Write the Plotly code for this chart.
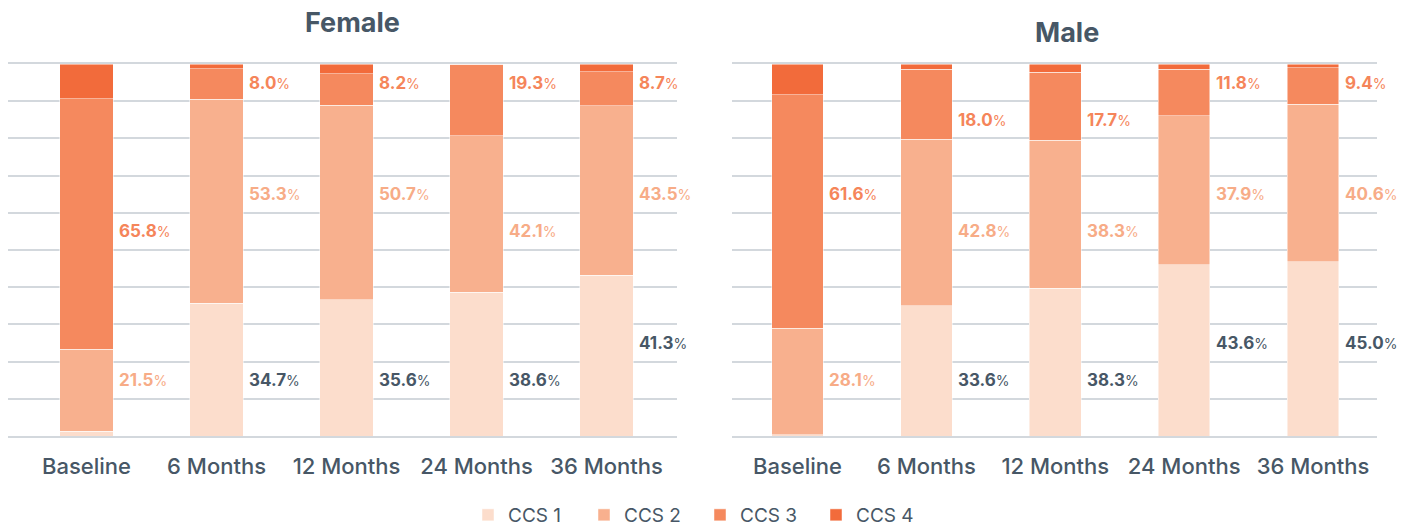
import math
import plotly.graph_objects as go

categories = ["Baseline", "6 Months", "12 Months", "24 Months", "36 Months"]
series_names = ["CCS 1", "CCS 2", "CCS 3", "CCS 4"]

female_ccs1 = [1.3, 34.7, 35.6, 38.6, 41.3]
female_ccs2 = [21.5, 53.3, 50.7, 42.1, 43.5]
female_ccs3 = [65.8, 8.0, 8.2, 19.3, 8.7]
female_ccs4 = [9.1, 1.2, 2.6, 0.0, 2.0]

male_ccs1 = [0.3, 33.6, 38.3, 43.6, 45.0]
male_ccs2 = [28.1, 42.8, 38.3, 37.9, 40.6]
male_ccs3 = [61.6, 18.0, 17.7, 11.8, 9.4]
male_ccs4 = [8.1, 1.4, 2.1, 1.3, 1.0]

bar_colors = ["#fcddcc", "#f8b08e", "#f5895e", "#f26b3b"]
label_colors = ["#475766", "#f7ac87", "#f5855a", None]
text_color = "#475766"
grid_color = "#d3d8dd"
FONT = "Inter"
GRID_STEP = 10

W, H = 1413, 526
L, T = 8, 64
plot_w, plot_h = 1377 - 8, 436 - 64
R = W - L - plot_w
B = H - T - plot_h

panels = [
    ("Female", [female_ccs1, female_ccs2, female_ccs3, female_ccs4], "x", "y", 0.41),
    ("Male", [male_ccs1, male_ccs2, male_ccs3, male_ccs4], "x2", "y2", 0.40),
]

fig = go.Figure()
annotations = []

for p, (name, series, xa, ya, bw) in enumerate(panels):
    for s, vals in enumerate(series):
        fig.add_trace(go.Bar(
            x=categories, y=vals, name=series_names[s],
            marker=dict(color=bar_colors[s], line=dict(color="rgba(255,255,255,0.6)", width=0.8)),
            width=bw, xaxis=xa, yaxis=ya,
            showlegend=(p == 0), legendgroup=series_names[s],
            hoverinfo="skip",
        ))
    for i in range(len(categories)):
        total = sum(series[s][i] for s in range(4))
        base = 0.0
        for s in range(4):
            v = series[s][i]
            share = v / total * 100
            mid = base + share / 2
            base += share
            if label_colors[s] is None or v < 5:
                continue
            # labels sit in the middle of the grid band holding the segment centre
            band_mid = math.floor(mid / GRID_STEP) * GRID_STEP + GRID_STEP / 2
            annotations.append(dict(
                x=i + bw / 2, y=band_mid, xref=xa, yref=ya,
                xanchor="left", yanchor="middle", xshift=4, showarrow=False,
                text=f"<b>{v:.1f}</b><span style='font-size:14px;font-weight:400'>%</span>",
                font=dict(family=FONT, size=17, color=label_colors[s]),
            ))


def px_to_paper(xp, yp):
    return ((xp - L) / plot_w, (H - yp - B) / plot_h)


for title, cx, cy in [("Female", 352, 22), ("Male", 1067, 32)]:
    ax, ay = px_to_paper(cx, cy)
    annotations.append(dict(text=f"<b>{title}</b>", x=ax, y=ay, xref="paper", yref="paper",
                            xanchor="center", yanchor="middle", showarrow=False,
                            font=dict(family=FONT, size=27, color=text_color)))

axis_common = dict(
    type="category", showgrid=False, ticks="", automargin=False,
    showline=True, mirror=True, linecolor=grid_color, linewidth=1.6, layer="below traces",
    tickfont=dict(family=FONT, size=22, color=text_color, weight=500),
    ticklabelstandoff=10, fixedrange=True,
)
yaxis_common = dict(
    range=[0, 100], dtick=GRID_STEP, showgrid=True, gridcolor=grid_color, gridwidth=1.6,
    showticklabels=False, zeroline=False, showline=False, ticks="", automargin=False,
    fixedrange=True,
)

f_left = 0.0
f_right = (677 - 8) / plot_w
m_left = (732 - 8) / plot_w

fig.update_layout(
    width=W, height=H,
    margin=dict(l=L, r=R, t=T, b=B, autoexpand=False),
    paper_bgcolor="white", plot_bgcolor="white",
    barmode="stack", barnorm="percent",
    xaxis=dict(domain=[f_left, f_right], range=[-0.604, 4.542], anchor="y", **axis_common),
    xaxis2=dict(domain=[m_left, 1.0], range=[-0.508, 4.496], anchor="y2", **axis_common),
    yaxis=dict(anchor="x", **yaxis_common),
    yaxis2=dict(anchor="x2", **yaxis_common),
    legend=dict(orientation="h", x=700 / W, xanchor="center", xref="container",
                y=(H - 515) / H, yanchor="middle", yref="container",
                font=dict(family=FONT, size=19, color=text_color),
                entrywidth=71, entrywidthmode="pixels", traceorder="normal"),
    annotations=annotations,
    showlegend=True,
    hovermode=False,
)

fig.write_html("out.html", config={"displayModeBar": False},
               post_script="document.body.style.margin='0';")
